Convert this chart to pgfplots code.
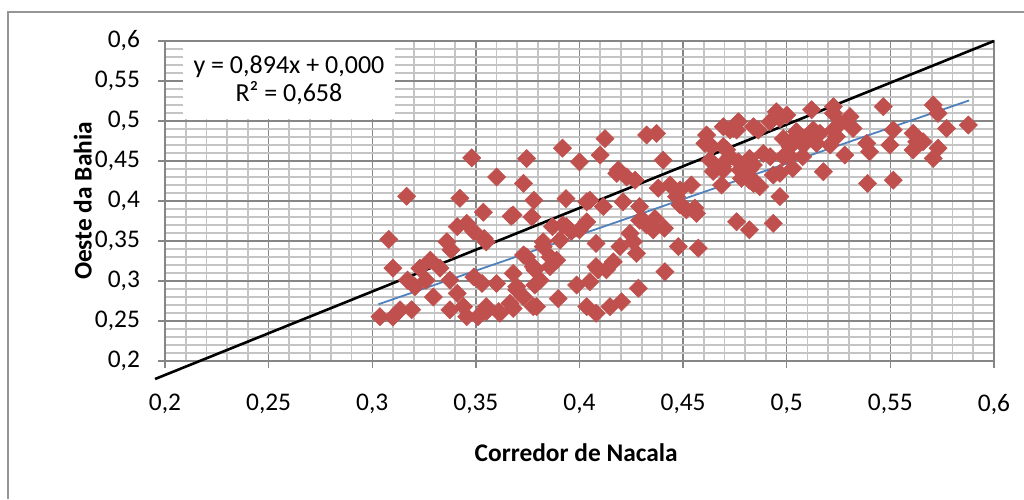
\documentclass[border=0pt]{standalone}
\usepackage{pgfplots}
\pgfplotsset{compat=1.18}
\usepackage{fontspec}
\setmainfont{Carlito}
\definecolor{mk}{HTML}{C0504D}
\definecolor{tl}{HTML}{4F81BD}
\definecolor{majg}{HTML}{868686}
\definecolor{ming}{HTML}{C4C4C4}
\definecolor{frame}{HTML}{959595}
\pgfplotstableread{
x y
0.3037 0.2554
0.3080 0.3520
0.3100 0.3160
0.3100 0.2550
0.3134 0.2640
0.3166 0.4060
0.3170 0.3010
0.3190 0.2640
0.3206 0.2930
0.3230 0.3160
0.3260 0.3010
0.3280 0.3260
0.3295 0.2800
0.3327 0.3160
0.3360 0.3490
0.3375 0.3010
0.3375 0.2640
0.3380 0.3390
0.3410 0.3680
0.3410 0.2845
0.3423 0.4034
0.3440 0.2680
0.3456 0.3720
0.3456 0.2554
0.3480 0.4540
0.3490 0.3620
0.3490 0.3050
0.3510 0.2554
0.3530 0.2970
0.3536 0.3860
0.3540 0.3530
0.3550 0.3490
0.3550 0.2680
0.3550 0.2617
0.3600 0.4300
0.3600 0.2970
0.3610 0.2617
0.3616 0.2597
0.3665 0.2720
0.3670 0.3810
0.3680 0.3825
0.3680 0.3095
0.3680 0.2657
0.3697 0.2890
0.3697 0.2930
0.3730 0.4220
0.3730 0.3325
0.3730 0.2800
0.3745 0.4530
0.3745 0.3300
0.3770 0.3800
0.3777 0.3180
0.3777 0.2680
0.3780 0.4010
0.3785 0.3140
0.3785 0.2950
0.3793 0.2680
0.3810 0.3010
0.3825 0.3430
0.3825 0.3490
0.3858 0.3180
0.3858 0.3300
0.3870 0.3680
0.3890 0.3260
0.3897 0.2780
0.3906 0.3510
0.3918 0.4660
0.3920 0.3700
0.3935 0.4030
0.3937 0.3680
0.3960 0.3620
0.3986 0.2950
0.4000 0.4490
0.4000 0.3640
0.4035 0.3990
0.4035 0.3740
0.4035 0.2680
0.4050 0.4010
0.4050 0.2990
0.4080 0.3470
0.4080 0.3180
0.4080 0.2597
0.4090 0.3140
0.4100 0.4575
0.4115 0.3930
0.4123 0.4780
0.4130 0.3140
0.4147 0.2680
0.4163 0.3240
0.4180 0.4345
0.4188 0.4388
0.4195 0.3430
0.4203 0.2740
0.4210 0.3990
0.4227 0.4300
0.4244 0.3595
0.4260 0.3490
0.4268 0.4260
0.4275 0.3345
0.4284 0.2910
0.4290 0.3930
0.4290 0.3760
0.4308 0.3760
0.4324 0.4825
0.4324 0.3700
0.4356 0.3640
0.4364 0.3780
0.4372 0.4845
0.4380 0.4160
0.4404 0.4510
0.4410 0.3660
0.4412 0.3117
0.4437 0.4200
0.4468 0.4055
0.4477 0.3430
0.4485 0.3950
0.4485 0.4138
0.4500 0.3930
0.4516 0.3890
0.4540 0.4200
0.4557 0.3910
0.4565 0.3845
0.4573 0.3410
0.4613 0.4825
0.4605 0.4720
0.4630 0.4700
0.4630 0.4510
0.4637 0.4680
0.4645 0.4370
0.4686 0.4200
0.4690 0.4430
0.4694 0.4680
0.4694 0.4929
0.4694 0.4470
0.4694 0.4388
0.4710 0.4640
0.4726 0.4554
0.4726 0.4888
0.4742 0.4907
0.4758 0.3740
0.4758 0.4888
0.4767 0.4991
0.4767 0.4490
0.4774 0.4388
0.4782 0.4283
0.4798 0.4470
0.4820 0.4390
0.4820 0.4260
0.4820 0.4533
0.4820 0.3640
0.4839 0.4929
0.4839 0.4450
0.4840 0.4220
0.4847 0.4240
0.4863 0.4888
0.4870 0.4180
0.4887 0.4595
0.4920 0.4554
0.4920 0.4990
0.4935 0.4325
0.4935 0.3720
0.4950 0.5116
0.4967 0.5030
0.4967 0.4346
0.4967 0.4055
0.4983 0.4780
0.4983 0.4554
0.5000 0.5075
0.5016 0.4680
0.5016 0.4554
0.5029 0.4763
0.5029 0.4408
0.5047 0.4866
0.5077 0.4554
0.5080 0.4700
0.5096 0.4804
0.5120 0.5140
0.5128 0.4888
0.5144 0.4720
0.5160 0.4846
0.5177 0.4366
0.5209 0.4700
0.5225 0.5180
0.5225 0.4888
0.5225 0.5096
0.5240 0.4804
0.5257 0.4970
0.5280 0.4575
0.5305 0.5055
0.5320 0.4907
0.5386 0.4720
0.5390 0.4220
0.5400 0.4616
0.5466 0.5180
0.5498 0.4700
0.5514 0.4888
0.5514 0.4260
0.5610 0.4846
0.5610 0.4638
0.5627 0.4740
0.5658 0.4740
0.5707 0.5200
0.5707 0.4533
0.5730 0.5096
0.5730 0.4660
0.5771 0.4907
0.5876 0.4950
}\pts
\begin{document}
\begin{tikzpicture}[x=1pt,y=1pt]
\path[use as bounding box] (-82.5,-69) rectangle (429.5,180.5);
\draw[frame, line width=1pt] (-78.5,-69) -- (-78.5,174.5) -- (429.5,174.5);
\begin{axis}[
  at={(0,0)}, anchor=south west,
  scale only axis, width=414.5pt, height=160pt,
  xmin=0.2, xmax=0.6, ymin=0.2, ymax=0.6,
  xtick={0.2,0.25,0.3,0.35,0.4,0.45,0.5,0.55,0.6},
  ytick={0.2,0.25,0.3,0.35,0.4,0.45,0.5,0.55,0.6},
  xticklabels={{0,2},{0,25},{0,3},{0,35},{0,4},{0,45},{0,5},{0,55},{0,6}},
  yticklabels={{0,2},{0,25},{0,3},{0,35},{0,4},{0,45},{0,5},{0,55},{0,6}},
  minor tick num=4,
  grid=both,
  major grid style={majg, line width=0.7pt},
  minor grid style={ming, line width=0.9pt},
  axis line style={majg, line width=0.7pt},
  tick style={majg, line width=0.7pt},
  minor tick length=0pt,
  major tick length=3.5pt,
  tick align=outside,
  xtick pos=bottom, ytick pos=left,
  ticklabel style={font=\fontsize{12.7}{15}\selectfont, text=black},
  xticklabel style={yshift=-9.5pt},
  yticklabel style={xshift=-5.5pt},
  label style={font=\bfseries\fontsize{12.7}{15}\selectfont},
  xlabel={Corredor de Nacala},
  ylabel={Oeste da Bahia},
  xlabel style={at={(axis description cs:0.496,-0.2875)}, anchor=center},
  ylabel style={at={(axis description cs:-0.099,0.5)}, anchor=center},
  clip=false,
]
\addplot[only marks, mark=square*, mark size=3.2pt,
  mark options={rotate=45, fill=mk, draw=mk, line width=0.3pt}] table[x=x,y=y]{\pts};
\addplot[tl, line width=0.9pt] coordinates {(0.303,0.2709) (0.588,0.5257)};
\addplot[black, line width=1.3pt] coordinates {(0.1952,0.1775) (0.6,0.6)};
\fill[white] (axis cs:0.2087,0.5025) rectangle (axis cs:0.311,0.5992);
\node[font=\fontsize{13}{14}\selectfont, align=center, inner sep=0pt]
  at (axis cs:0.2598,0.5505) {y = 0,894x + 0,000\\R² = 0,658};
\end{axis}
\end{tikzpicture}
\end{document}
